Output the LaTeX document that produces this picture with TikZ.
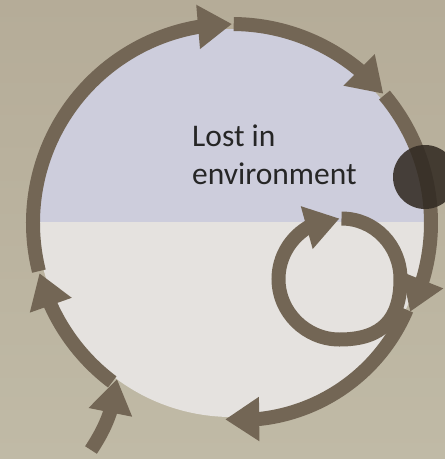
\documentclass[tikz,border=0pt]{standalone}
\usepackage{fontspec}
\setmainfont{Carlito}
\usetikzlibrary{arrows.meta,bending}
\definecolor{bgtop}{HTML}{B5AC98}
\definecolor{bgbot}{HTML}{C0BAA6}
\definecolor{lav}{HTML}{CDCDDC}
\definecolor{lgrey}{HTML}{E5E2DF}
\definecolor{arrowc}{HTML}{736655}
\definecolor{darkc}{HTML}{332B23}
\definecolor{txt}{HTML}{262626}
\begin{document}
\begin{tikzpicture}[x=1pt,y=1pt,
  cyc/.style={draw=arrowc, line width=14pt,
    -{Triangle[width=42pt, length=34pt, flex]}},
  lbl/.style={anchor=base west, inner sep=0pt, text=txt,
    font=\fontsize{31.5}{38}\selectfont}]
\useasboundingbox (0,0) rectangle (445,-459);
\shade[top color=bgtop, bottom color=bgbot] (0,0) rectangle (445,-459);
\coordinate (C) at (232,-223);
\coordinate (C2) at (240,-239);
% filled disc, split in two halves
\begin{scope}
  \clip (C) circle (194);
  \fill[lav] (20,0) rectangle (445,-222);
  \fill[lgrey] (20,-222) rectangle (445,-459);
\end{scope}
% entry arrow
\coordinate (in0) at (91,-450);
\coordinate (in1) at (117,-379);
\draw[cyc] (in0) to[bend right=13] (in1);
% cycle arcs
\draw[cyc] ([shift={(233:199)}]C) arc[start angle=233, end angle=194.6, radius=199];
\draw[cyc] ([shift={(194:199)}]C) arc[start angle=194, end angle=90, radius=199];
\draw[cyc] ([shift={(89.5:199)}]C) arc[start angle=89.5, end angle=40.5, radius=199];
\draw[cyc] ([shift={(40:199)}]C) arc[start angle=40, end angle=-26.5, radius=199];
\draw[cyc] ([shift={(-23:181)}]C2) arc[start angle=-23, end angle=-94.7, radius=181];
% inner loop
\coordinate (lp0) at (341.5,-218.5);
\coordinate (lpR) at (400.5,-279);
\coordinate (lpB) at (339.5,-339.5);
\coordinate (lpL) at (278.5,-279);
\coordinate (lpT) at (339.5,-218.5);
\draw[cyc] (lp0) .. controls (374.5,-218.5) and (400.5,-245.6) .. (lpR)
  .. controls (400.5,-319) and (382.5,-339.5) .. (lpB)
  .. controls (306.1,-339.5) and (278.5,-312.4) .. (lpL)
  .. controls (278.5,-245.6) and (306.1,-218.5) .. (lpT);
% dark dot
\node[circle, fill=darkc, fill opacity=0.88, minimum size=64pt, inner sep=0pt] (dot) at (425,-177) {};
% text
\node[lbl] (t1) at (192,-146) {Lost in};
\node[lbl] (t2) at (192,-184) {environment};
\end{tikzpicture}
\end{document}
